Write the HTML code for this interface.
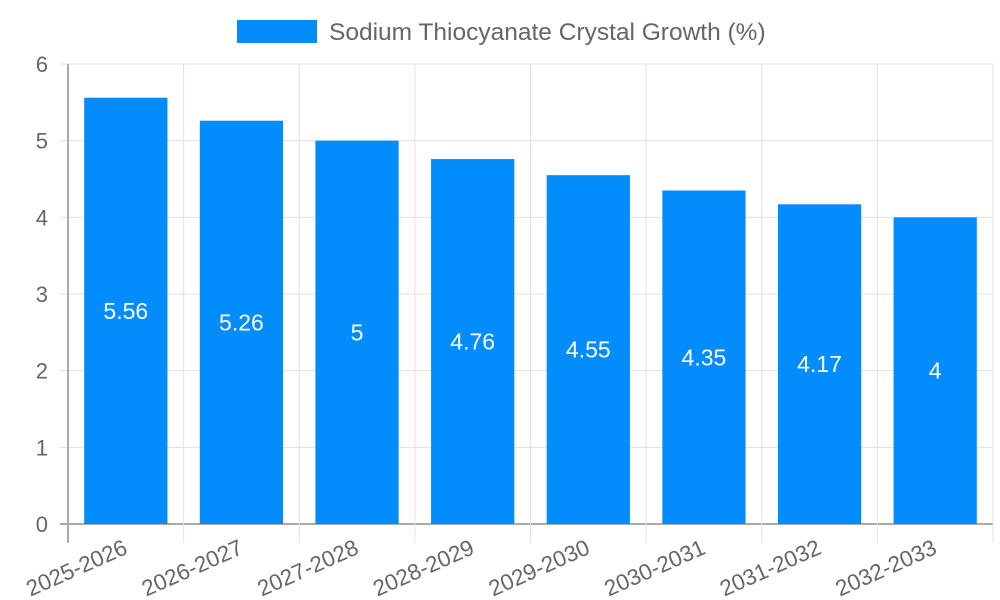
<!DOCTYPE html>
<html><head><meta charset="utf-8"><style>
body{margin:0;background:#fff;}
svg{display:block;font-family:"Liberation Sans",sans-serif;}
</style></head><body>
<svg id="c" width="1000" height="600">
<g>
<rect x="237" y="20" width="80" height="23" fill="#038cfc"/>
<text x="329" y="40" font-size="24.5" fill="#666">Sodium Thiocyanate Crystal Growth (%)</text>
</g>
<g id="grid"></g><g id="bars"></g><g id="axes"></g>
</svg>
<script>
const categories=["2025-2026","2026-2027","2027-2028","2028-2029","2029-2030","2030-2031","2031-2032","2032-2033"];
const values=[5.56,5.26,5,4.76,4.55,4.35,4.17,4];
const yTicks=[0,1,2,3,4,5,6];
const NS="http://www.w3.org/2000/svg";
const L=68,R=993,T=64,B=524,yMax=6;
const cw=(R-L)/categories.length;
const y=v=>B-(B-T)*v/yMax;
const xc=i=>L+cw*(i+0.5);
function mk(tag,attrs,parent,txt){const e=document.createElementNS(NS,tag);for(const k in attrs)e.setAttribute(k,attrs[k]);if(txt!==undefined)e.textContent=txt;document.getElementById(parent).appendChild(e);return e;}
yTicks.forEach(t=>{
  const g=mk('line',{x1:60,x2:R,y1:y(t),y2:y(t),stroke:t===0?'#aaa':'#e0e0e0','stroke-width':t===0?2:1},'grid');
  
  
  const lb=mk('text',{x:48,y:y(t)+8,'font-size':22,fill:'#666','text-anchor':'end'},'axes',String(t));
  
  
});
for(let i=0;i<=categories.length;i++){
  const x=L+cw*i;
  const g=mk('line',{x1:x,x2:x,y1:T,y2:543,stroke:i===0?'#aaa':'#e0e0e0','stroke-width':i===0?2:1},'grid');
  
  
}
const bw=cw*0.72;
categories.forEach((c,i)=>{
  const r=mk('rect',{x:xc(i)-bw/2,y:y(values[i]),width:bw,height:B-y(values[i]),fill:'#038cfc'},'bars');
  
  
  const v=mk('text',{x:xc(i),y:(y(values[i])+B)/2+8,'font-size':23,fill:'#fff','text-anchor':'middle'},'bars',String(values[i]));
  
  
  const lb=mk('text',{x:xc(i)+3,y:553,'font-size':22.5,fill:'#666','text-anchor':'end',transform:`rotate(-24 ${xc(i)+3} 553)`},'axes',c);
  
  
});
</script>
</body></html>
